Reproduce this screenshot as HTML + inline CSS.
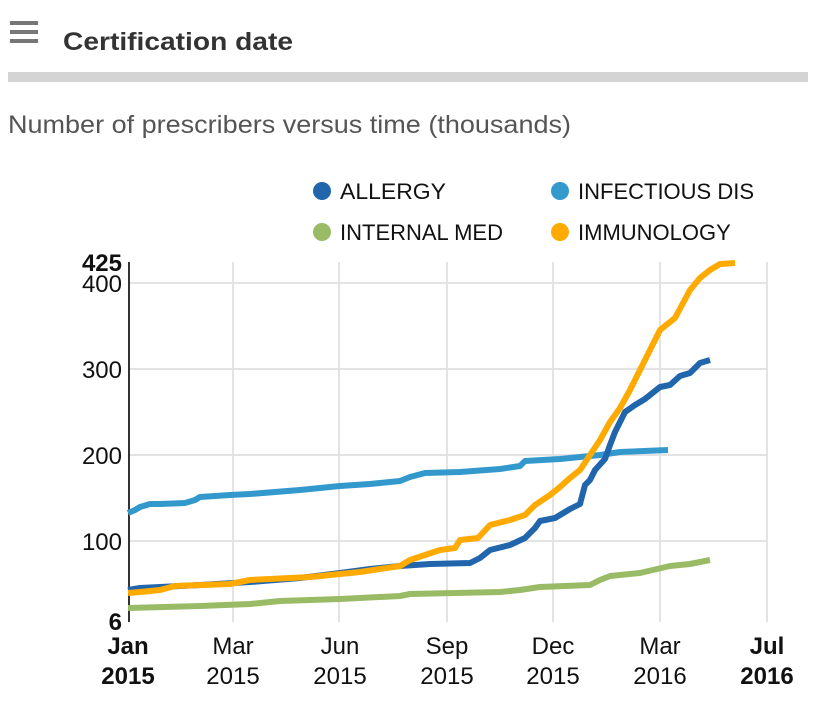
<!DOCTYPE html>
<html><head><style>
body{margin:0;width:818px;height:718px;background:#fff;font-family:"Liberation Sans",Arial,sans-serif;overflow:hidden;position:relative}
</style></head><body>
<svg width="818" height="718" style="position:absolute;left:0;top:0" font-family="Liberation Sans, Arial, sans-serif">
<rect x="10" y="21" width="28" height="4" fill="#777"/>
<rect x="10" y="30" width="28" height="4" fill="#777"/>
<rect x="10" y="39" width="28" height="4" fill="#777"/>
<text x="63" y="50" font-size="25" font-weight="bold" fill="#333" textLength="230" lengthAdjust="spacingAndGlyphs">Certification date</text>
<rect x="8" y="72" width="800" height="10" fill="#d4d4d4"/>
<text x="8" y="133" font-size="25" fill="#555" textLength="563" lengthAdjust="spacingAndGlyphs">Number of prescribers versus time (thousands)</text>
<circle cx="322" cy="191" r="9" fill="#2166ac"/><text x="340" y="199" font-size="22" fill="#111" textLength="106" lengthAdjust="spacingAndGlyphs">ALLERGY</text>
<circle cx="560" cy="191" r="9" fill="#3399cc"/><text x="578" y="199" font-size="22" fill="#111">INFECTIOUS DIS</text>
<circle cx="322" cy="232" r="9" fill="#99bb66"/><text x="340" y="240" font-size="22" fill="#111">INTERNAL MED</text>
<circle cx="560" cy="232" r="9" fill="#ffaa00"/><text x="578" y="240" font-size="22" fill="#111">IMMUNOLOGY</text>
<g stroke="#e3e3e3" stroke-width="2">
<line x1="128" y1="283" x2="768" y2="283"/><line x1="128" y1="369" x2="768" y2="369"/>
<line x1="128" y1="455" x2="768" y2="455"/><line x1="128" y1="541" x2="768" y2="541"/>
<line x1="233" y1="262" x2="233" y2="622"/><line x1="339" y1="262" x2="339" y2="622"/>
<line x1="447" y1="262" x2="447" y2="622"/><line x1="553" y1="262" x2="553" y2="622"/>
<line x1="660" y1="262" x2="660" y2="622"/><line x1="767" y1="262" x2="767" y2="622"/>
</g>
<line x1="129" y1="262" x2="129" y2="622" stroke="#333" stroke-width="2"/>
<g font-size="24" fill="#111" text-anchor="end">
<text x="122" y="271" font-weight="bold">425</text>
<text x="122" y="292">400</text><text x="122" y="378">300</text>
<text x="122" y="464">200</text><text x="122" y="550">100</text>
<text x="122" y="630" font-weight="bold">6</text>
</g>
<g font-size="24" fill="#111" text-anchor="middle">
<text x="128" y="654" font-weight="bold">Jan</text><text x="128" y="684" font-weight="bold">2015</text>
<text x="233" y="654">Mar</text><text x="233" y="684">2015</text>
<text x="340" y="654">Jun</text><text x="340" y="684">2015</text>
<text x="447" y="654">Sep</text><text x="447" y="684">2015</text>
<text x="553" y="654">Dec</text><text x="553" y="684">2015</text>
<text x="660" y="654">Mar</text><text x="660" y="684">2016</text>
<text x="767" y="654" font-weight="bold">Jul</text><text x="767" y="684" font-weight="bold">2016</text>
</g>
<g fill="none" stroke-width="6" stroke-linejoin="round">
<polyline stroke="#99bb66" points="128,608 200,606 250,604 280,601 340,599 400,596 410,594 500,592 520,590 540,587 590,585 600,580 610,576 640,573 670,566 690,564 710,560"/>
<polyline stroke="#3399cc" points="128,513 135,510 140,507 150,504 160,504 185,503 195,500 200,497 215,496 230,495 250,494 300,490 340,486 370,484 400,481 410,477 425,473 460,472 500,469 520,466 525,461 560,459 580,457 600,455 620,452 668,450"/>
<polyline stroke="#2166ac" points="128,590 140,588 200,585 250,582 300,578 340,573 370,569 400,566 430,564 470,563 480,558 490,550 510,545 525,538 535,528 540,521 555,518 570,509 580,504 585,485 590,480 595,470 605,459 610,445 615,432 625,412 635,405 645,399 650,395 660,387 670,385 680,376 690,373 700,363 710,360"/>
<polyline stroke="#ffaa00" points="128,593 140,592 160,590 175,586 230,584 250,580 290,578 310,577 330,575 360,572 400,566 410,560 425,555 440,550 455,548 460,540 478,538 490,525 510,520 525,515 535,505 550,495 560,487 570,478 580,470 590,455 600,440 610,422 620,408 630,390 640,370 650,350 660,330 675,318 690,290 700,278 710,270 720,264 735,263"/>
</g>
</svg>
</body></html>
